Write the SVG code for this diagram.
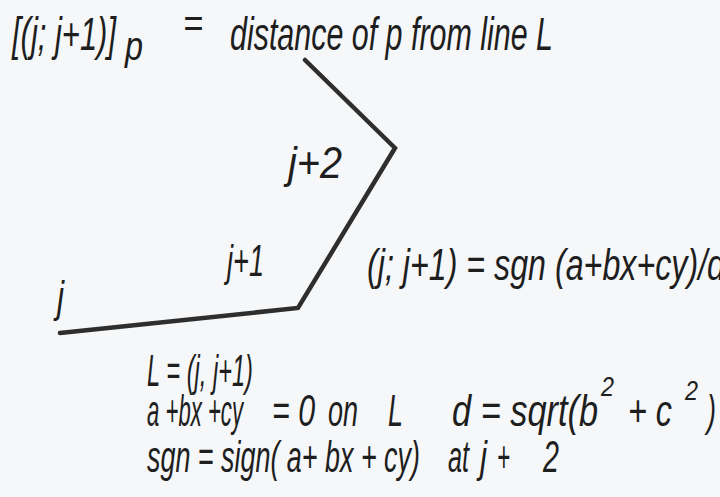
<svg xmlns="http://www.w3.org/2000/svg" width="720" height="497" viewBox="0 0 720 497">
  <style>
    text { font-family: "Liberation Sans", Arial, sans-serif; font-style: italic; fill: #1e1e1e; }
    .t46 { font-size: 47px; }
    .t44 { font-size: 44px; }
    .t42 { font-size: 42px; }
    .t40 { font-size: 40px; }
    .t28 { font-size: 28px; }
    .poly { fill: none; stroke: #2e2e2e; stroke-width: 4.5; stroke-linejoin: miter; stroke-linecap: round; }
  </style>
  <rect width="720" height="497" fill="#f5f7f8"/>

  <g id="title">
    <text class="t46" x="12" y="50" textLength="104" lengthAdjust="spacingAndGlyphs">[(j; j+1)]</text>
    <text class="t40" x="125" y="60" textLength="18" lengthAdjust="spacingAndGlyphs">p</text>
    <text class="t40" x="183" y="37" textLength="20" lengthAdjust="spacingAndGlyphs">=</text>
    <text class="t46" x="230" y="50" textLength="323" lengthAdjust="spacingAndGlyphs">distance of p from line L</text>
  </g>

  <g id="connectors">
    <polyline class="poly" points="305,60 395,148 298,308 60,333"/>
  </g>

  <g id="vertex-j">
    <text class="t44" x="57" y="312" textLength="7" lengthAdjust="spacingAndGlyphs">j</text>
  </g>
  <g id="vertex-j1">
    <text class="t44" x="227" y="276" textLength="37" lengthAdjust="spacingAndGlyphs">j+1</text>
  </g>
  <g id="vertex-j2">
    <text class="t44" x="288" y="178" textLength="54" lengthAdjust="spacingAndGlyphs">j+2</text>
  </g>

  <g id="formula-distance">
    <text class="t44" x="367" y="280" textLength="358" lengthAdjust="spacingAndGlyphs">(j; j+1) = sgn (a+bx+cy)/d</text>
  </g>

  <g id="definitions">
    <text class="t44" x="147" y="386" textLength="106" lengthAdjust="spacingAndGlyphs">L = (j, j+1)</text>

    <text class="t44" x="147" y="426" textLength="96" lengthAdjust="spacingAndGlyphs">a +bx +cy</text>
    <text class="t44" x="272" y="426" textLength="43" lengthAdjust="spacingAndGlyphs">= 0</text>
    <text class="t44" x="328" y="426" textLength="30" lengthAdjust="spacingAndGlyphs">on</text>
    <text class="t44" x="388" y="426" textLength="15" lengthAdjust="spacingAndGlyphs">L</text>

    <text class="t44" x="452" y="426" textLength="146" lengthAdjust="spacingAndGlyphs">d = sqrt(b</text>
    <text class="t28" x="601" y="396" textLength="13" lengthAdjust="spacingAndGlyphs">2</text>
    <text class="t44" x="628" y="426" textLength="44" lengthAdjust="spacingAndGlyphs">+ c</text>
    <text class="t28" x="685" y="400" textLength="13" lengthAdjust="spacingAndGlyphs">2</text>
    <text class="t44" x="707" y="426" textLength="9" lengthAdjust="spacingAndGlyphs">)</text>

    <text class="t44" x="147" y="472" textLength="273" lengthAdjust="spacingAndGlyphs">sgn = sign( a+ bx + cy)</text>
    <text class="t44" x="448" y="472" textLength="21" lengthAdjust="spacingAndGlyphs">at</text>
    <text class="t44" x="480" y="472" textLength="7" lengthAdjust="spacingAndGlyphs">j</text>
    <text class="t44" x="497" y="472" textLength="13" lengthAdjust="spacingAndGlyphs">+</text>
    <text class="t44" x="543" y="472" textLength="16" lengthAdjust="spacingAndGlyphs">2</text>
  </g>
</svg>
